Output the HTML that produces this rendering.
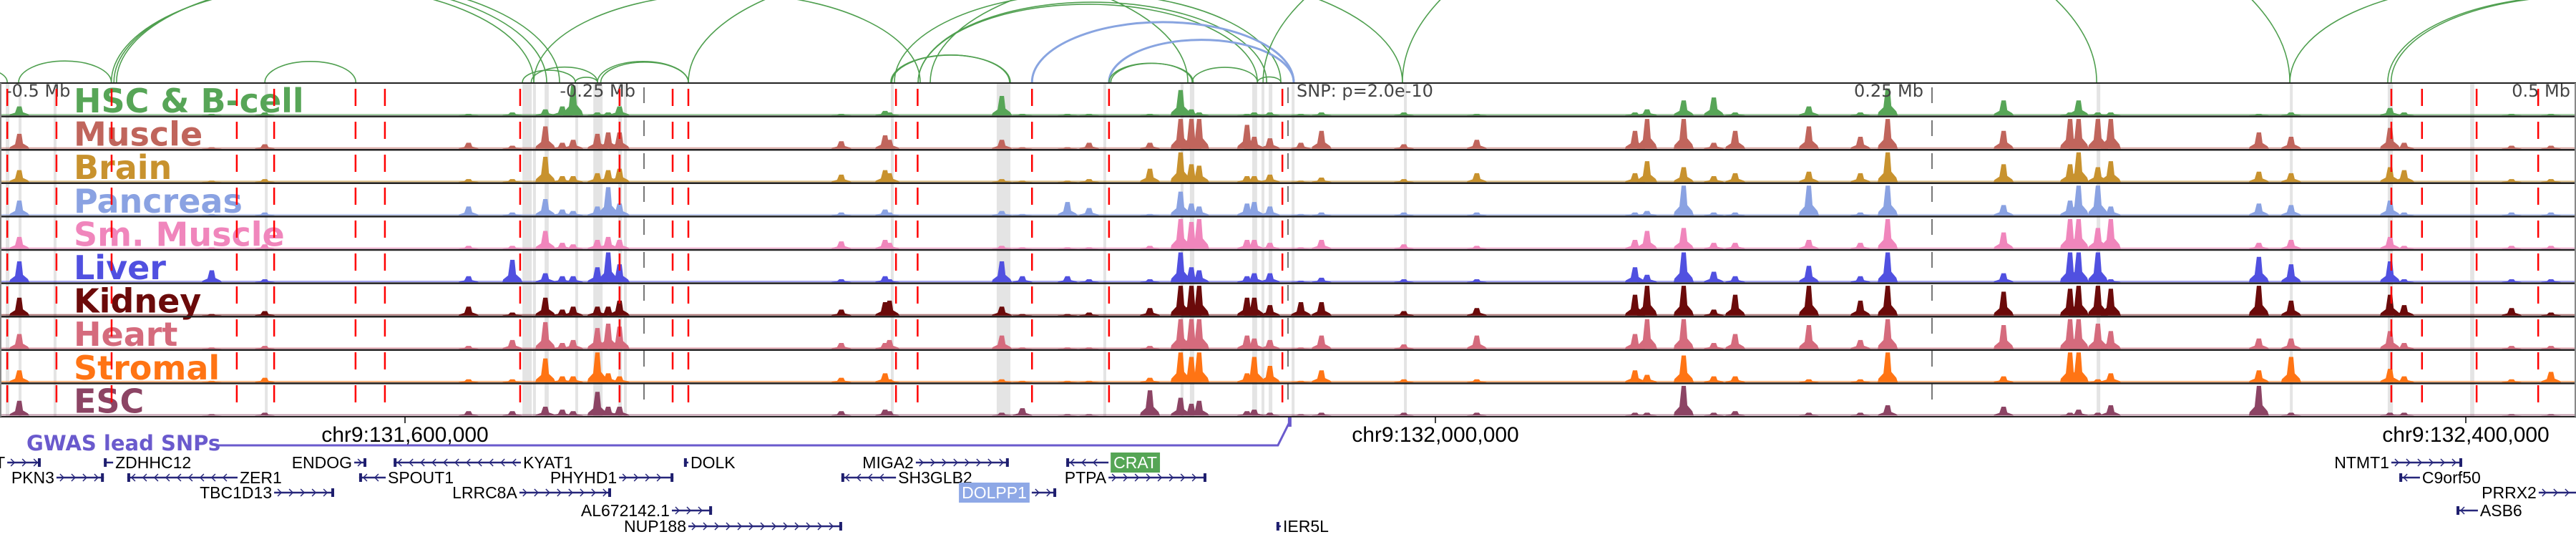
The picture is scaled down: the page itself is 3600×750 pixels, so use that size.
<!DOCTYPE html>
<html><head><meta charset="utf-8"><style>
html,body{margin:0;padding:0;background:#fff;width:3600px;height:750px;overflow:hidden}
svg{display:block}
</style></head><body>
<svg id="chart" xmlns="http://www.w3.org/2000/svg" width="3600" height="750" viewBox="0 0 3600 750">
<g id="arcs"></g>
<g id="bands"></g>
<g id="signals"></g>
<g id="labels"></g>
<g id="vlines"></g>
<g id="frame"></g>
<g id="axis"></g>
<g id="genes"></g>
</svg>
<script>
// ---- data ----
const windowStartKb = 131442.78;
const pxPerKb = 3.6;
const trackNames = ["HSC & B-cell","Muscle","Brain","Pancreas","Sm. Muscle","Liver","Kidney","Heart","Stromal","ESC"];
const trackColors = ["#57a557","#c0655c","#c8922e","#8aa2e2","#f086bc","#5050e0","#6b0a0a","#d56b7d","#ff7414","#8c4464"];
const peakKb = [131450.3,131525,131545.6,131624.7,131641.7,131654.5,131661.1,131665.3,131674.7,131678.9,131683.3,131769.4,131786.4,131788.1,131831.7,131839.7,131857.2,131865.6,131889.2,131901.1,131905.3,131908.3,131926.9,131929.7,131935.8,131947.8,131955.8,131987.8,132016.1,132077.5,132082.2,132096.4,132108.1,132116.4,132145,132165,132175.6,132220.6,132246.4,132249.7,132257.2,132262.2,132319.7,132332.2,132370.6,132376.1,132417.8,132433.1];
const hscValues = [.3,.05,.1,.05,.1,.2,.3,1,.1,.1,.3,.05,.15,.1,.65,.05,.05,.05,.05,.85,.2,.1,.05,.1,.1,.05,.1,.1,.05,.1,.2,.5,.6,.1,.3,.1,.9,.5,.1,.5,.1,.1,.05,.1,.25,.1,.05,.05];
const muscleValues = [.5,.05,.15,.2,.1,.75,.2,.3,.5,.55,.55,.25,.45,.3,.3,.05,.05,.2,.2,1,1,1,.8,.4,.35,.2,.6,.15,.3,.6,1,1,.2,.6,.75,.4,1,.6,1,1,1,1,.55,.4,.7,.2,.1,.1];
const brainValues = [.4,.05,.1,.1,.1,.85,.2,.2,.3,.4,.45,.25,.4,.3,.1,.05,.05,.1,.45,1,.6,.55,.2,.2,.25,.05,.15,.1,.3,.3,.7,.5,.2,.3,.35,.3,1,.6,.6,1,.5,.7,.35,.3,.5,.4,.1,.1];
const pancreasValues = [.5,.05,.1,.3,.1,.55,.2,.15,.3,.95,.4,.1,.2,.1,.15,.05,.45,.25,.05,.8,.4,.3,.4,.45,.3,.05,.1,.1,.1,.1,.15,1,.1,.1,1,.1,1,.35,.5,1,1,.3,.4,.35,.5,.1,.1,.1];
const smMuscleValues = [.4,.05,.15,.1,.1,.6,.2,.15,.3,.4,.3,.25,.3,.2,.1,.05,.05,.05,.1,1,.9,1,.3,.3,.2,.05,.3,.15,.1,.3,.6,.7,.2,.2,.3,.2,1,.55,1,1,.7,1,.2,.3,.4,.1,.1,.1];
const liverValues = [.7,.4,.1,.2,.75,.3,.2,.2,.5,1,.6,.1,.2,.1,.7,.2,.2,.1,.1,1,.5,.4,.2,.3,.3,.05,.15,.1,.1,.5,.25,1,.35,.2,.55,.2,1,.3,1,1,1,.1,.85,.6,.7,.1,.1,.1];
const kidneyValues = [.6,.05,.15,.3,.1,.6,.2,.3,.3,.3,.5,.2,.45,.5,.3,.05,.05,.1,.25,1,1,1,.6,.6,.35,.45,.45,.15,.25,.7,1,1,.2,.7,1,.5,1,.8,.9,1,1,.9,1,.5,.7,.35,.25,.1];
const heartValues = [.5,.05,.1,.1,.3,.9,.2,.3,.7,.85,.75,.2,.2,.3,.45,.05,.05,.05,.1,1,1,1,.45,.35,.3,.05,.45,.15,.45,.5,1,1,.2,.5,.8,.3,1,.8,1,1,.85,.6,.35,.35,.6,.2,.1,.1];
const stromalValues = [.4,.05,.15,.1,.1,.8,.2,.2,1,.3,.2,.15,.3,.1,.1,.05,.05,.05,.15,1,.85,1,.3,.85,.55,.05,.4,.1,.1,.4,.25,.9,.2,.2,.1,.1,1,.2,1,1,.1,.3,.4,.85,.45,.2,.1,.35];
const escValues = [.5,.05,.1,.15,.15,.3,.2,.15,.8,.3,.3,.15,.2,.15,.1,.25,.05,.05,.85,.6,.4,.5,.15,.2,.1,.05,.1,.1,.1,.1,.1,1,.1,.15,.1,.1,.35,.3,.1,.2,.1,.35,1,.1,.1,.1,.05,.05];
const redLineKb = [131445.6,131464.7,131486.1,131534.7,131549.2,131580.8,131592.2,131644.7,131683.3,131703.9,131710,131790.6,131799,131843.4,131873.3,131940.6,132371.1,132383,132404.2,132428.1];
const bandStartKb = [131445.0,131450.0,131463.6,131545.6,131645.6,131649.7,131654.2,131666.1,131673.1,131682.8,131685.0,131788.6,131829.7,131871.1,131901.1,131904.7,131928.9,131932.5,131935.3,131944.2,131987.8,132256.7,132331.7,132369.7,132401.7];
const bandEndKb   = [131446.4,131450.8,131464.7,131546.7,131649.2,131650.8,131655.8,131667.2,131676.7,131684.2,131686.1,131789.4,131835.0,131872.2,131902.2,131906.4,131930.8,131933.3,131936.7,131945.0,131988.9,132258.1,132332.8,132371.7,132403.3];
const offsetLabels = ["-0.5 Mb","-0.25 Mb","SNP: p=2.0e-10","0.25 Mb","0.5 Mb"];
const offsetKb = [131442.78,131692.78,131942.78,132192.78,132442.78];
const arcStartKb = [131420.6,131450,131486,131487,131488,131545.6,131645.6,131649,131666.1,131674.7,131676,131710,131788.6,131789,131790,131799.2,131799.2,131843.4,131873.3,131873.3,131874,131905.6,131930.9,131933.1,131803.9,131987.2,132331.7,132369.7,132371,131650];
const arcEndKb   = [131445.6,131486,131650,131655,131660,131580.9,131666.1,131674.7,131674.7,131710,131710,131903.9,131834.7,131835,131940,131930.9,131934.5,131945,131945,131905.6,131906,131930.9,131940,132256.7,131987.2,132331.7,132498.4,132515,132516,131800];
const arcKind    = ["g","g","g","g","g","g","g","g","g","g","g","g","g","g","g","g","g","b","b","g","g","g","g","g","g","g","g","g","g","g"];
const axisTickKb = [131600,132000,132400];
const axisTickLabels = ["chr9:131,600,000","chr9:132,000,000","chr9:132,400,000"];
const geneNames  = ["T","ZDHHC12","ENDOG","KYAT1","DOLK","MIGA2","CRAT","NTMT1","PKN3","ZER1","SPOUT1","PHYHD1","SH3GLB2","PTPA","C9orf50","TBC1D13","LRRC8A","DOLPP1","PRRX2","AL672142.1","ASB6","NUP188","IER5L"];
const geneStartKb= [131445.6,131483.1,131580.3,131595.6,131708.3,131798.3,131856.7,132371.1,131464.7,131492.2,131582.2,131683.1,131769.4,131873.1,132374.2,131549.2,131644.4,131843.3,132428.3,131703.6,132396.4,131710,131938.3];
const geneEndKb  = [131458.6,131486.7,131585,131645.0,131710,131834.4,131873.1,132398.6,131483.1,131535.0,131592.5,131704.2,131790.6,131911.1,132382.2,131572.5,131680.0,131852.8,132448.3,131719.2,132404.7,131769.7,131940.0];
const geneStrand = ["+","-","+","-","-","+","-","+","+","-","-","+","-","+","-","+","+","+","+","+","-","+","-"];
const geneRow    = [0,0,0,0,0,0,0,0,1,1,1,1,1,1,1,2,2,2,2,3,3,4,4];
const geneLabelSide = ["L","R","L","R","R","L","R","L","L","R","R","L","R","L","R","L","L","L","L","L","R","L","R"];
const geneHighlight = ["","","","","","","g","","","","","","","","","","","b","","","","",""];
const gwasSnpKb = [131943.3];

// ---- layout ----
const NS="http://www.w3.org/2000/svg";
const xs = kb => (kb - windowStartKb) * pxPerKb;
const panelTop=116, trackH=46.6, nTracks=10, panelBottom=panelTop+trackH*nTracks;
const trackValues=[hscValues,muscleValues,brainValues,pancreasValues,smMuscleValues,liverValues,kidneyValues,heartValues,stromalValues,escValues];
function mk(tag, attrs, parent){const e=document.createElementNS(NS,tag);for(const k in attrs)e.setAttribute(k,attrs[k]);parent.appendChild(e);return e;}
const gArcs=document.getElementById('arcs'),gBands=document.getElementById('bands'),gSig=document.getElementById('signals'),gLab=document.getElementById('labels'),gV=document.getElementById('vlines'),gF=document.getElementById('frame'),gAx=document.getElementById('axis'),gG=document.getElementById('genes');

// arcs
const arcBase=115;
arcStartKb.forEach((s,i)=>{
  const x1=xs(s),x2=xs(arcEndKb[i]),rx=(x2-x1)/2,ry=0.23*(x2-x1);
  const p=mk('path',{d:`M${x1},${arcBase} A${rx},${ry} 0 0 1 ${x2},${arcBase}`,fill:'none',stroke:arcKind[i]==='b'?'#88a4e0':'#4f9f4f','stroke-width':arcKind[i]==='b'?3:1.6},gArcs);
  
  
});

// bands
bandStartKb.forEach((s,i)=>{
  const x1=xs(s),w=Math.max(4,xs(bandEndKb[i])-x1);
  const r=mk('rect',{x:x1,y:panelTop,width:w,height:panelBottom-panelTop,fill:'#e4e4e4'},gBands);
  
  
});

// signals
trackValues.forEach((vals,t)=>{
  const base=panelTop+(t+1)*trackH-1.5, maxH=trackH-5;
  const g=mk('g',{fill:trackColors[t]},gSig);
  
  
  mk('rect',{x:0,y:base-2,width:3600,height:2,opacity:0.55},g);
  peakKb.forEach((kb,i)=>{
    const x=xs(kb),h=vals[i]*maxH;
    const p=mk('path',{d:`M${x-14},${base} L${x-13},${base-0.12*h} L${x-6},${base-0.3*h} L${x-3},${base-h} L${x+3},${base-h} L${x+5},${base-0.35*h} L${x+12},${base-0.15*h} L${x+14},${base} Z`},g);
    
    
  });
});

// track labels
trackNames.forEach((n,t)=>{
  const tx=mk('text',{x:103,y:panelTop+t*trackH+41,fill:trackColors[t],'font-family':'"DejaVu Sans","Liberation Sans",sans-serif','font-weight':'bold','font-size':46},gLab);
  tx.textContent=n;
  
  
});

// offset labels + gray dashed lines
offsetKb.forEach((kb,i)=>{
  const x=xs(kb);
  const l=mk('line',{x1:Math.min(Math.max(x,1),3599),x2:Math.min(Math.max(x,1),3599),y1:panelTop,y2:panelBottom,stroke:'#777','stroke-width':2,'stroke-dasharray':'22 24','stroke-dashoffset':-6},gV);
  
  
  const anchor=(i===0||i===2)?'start':'end';
  const tx=mk('text',{x:i===0?8:(i===2?x+12:(i===4?x-8:x-12)),y:135,'text-anchor':anchor,fill:'#444','font-family':'"DejaVu Sans","Liberation Sans",sans-serif','font-size':24},gV);
  tx.textContent=offsetLabels[i];
  
  
});
redLineKb.forEach(kb=>{
  const x=xs(kb);
  const l=mk('line',{x1:x,x2:x,y1:panelTop,y2:panelBottom,stroke:'#ff0000','stroke-width':2.5,'stroke-dasharray':'24 22','stroke-dashoffset':-8},gV);
  
  
});

// frame
for(let t=0;t<=nTracks;t++){
  const y=panelTop+t*trackH;
  const l=mk('line',{x1:0,x2:3600,y1:y,y2:y,stroke:'#222','stroke-width':t===0||t===nTracks?2:2.5},gF);
  
  
}
mk('line',{x1:1,x2:1,y1:panelTop,y2:panelBottom,stroke:'#888','stroke-width':2},gF);
mk('line',{x1:3599,x2:3599,y1:panelTop,y2:panelBottom,stroke:'#888','stroke-width':2},gF);

// axis
axisTickKb.forEach((kb,i)=>{
  const x=xs(kb);
  mk('line',{x1:x,x2:x,y1:panelBottom,y2:panelBottom+9,stroke:'#000','stroke-width':1.5},gAx);
  const tx=mk('text',{x:i===2?Math.min(x,3455):x,y:617,'text-anchor':'middle',fill:'#000','font-family':'"Liberation Sans",sans-serif','font-size':30},gAx);
  tx.textContent=axisTickLabels[i];
  
  
});

// GWAS
const gw=mk('text',{x:37,y:629,fill:'#6a5acd','font-family':'"DejaVu Sans","Liberation Sans",sans-serif','font-weight':'bold','font-size':29},gAx);
gw.textContent='GWAS lead SNPs';


gwasSnpKb.forEach(kb=>{
  const x=xs(kb);
  const p=mk('path',{d:`M300,622 L${x-16},622 L${x},590`,fill:'none',stroke:'#6a5acd','stroke-width':3},gAx);
  
  
  const r=mk('rect',{x:x-2,y:583,width:5,height:13,fill:'#6a5acd'},gAx);
  
  
});

// genes
const rowY=[646,667,688,713,735];
geneNames.forEach((n,i)=>{
  const x1=xs(geneStartKb[i]),x2=xs(geneEndKb[i]),y=rowY[geneRow[i]];
  const g=mk('g',{},gG);
  
  
  mk('line',{x1:x1,x2:x2,y1:y,y2:y,stroke:'#26267a','stroke-width':2.5},g);
  mk('rect',{x:geneStrand[i]==='+'?x2-4:x1,y:y-6,width:4,height:12,fill:'#1e1e6e'},g);
  for(let ax=x1+8;ax<x2-6;ax+=16){
    const d=geneStrand[i]==='+'?`M${ax-3},${y-5} L${ax+2},${y} L${ax-3},${y+5}`:`M${ax+3},${y-5} L${ax-2},${y} L${ax+3},${y+5}`;
    mk('path',{d:d,fill:'none',stroke:'#26267a','stroke-width':1.5},g);
  }
  const left=geneLabelSide[i]==='L';
  const tx=left?x1-3:x2+3;
  const t=mk('text',{x:left?tx-(geneHighlight[i]?4:0):tx+(geneHighlight[i]?4:0),y:y+8,'text-anchor':left?'end':'start',fill:geneHighlight[i]?'#fff':'#000','font-family':'"Liberation Sans",sans-serif','font-size':23},g);
  t.textContent=n;
  if(geneHighlight[i]){
    const bb=t.getBBox();
    const r=mk('rect',{x:bb.x-4,y:y-14,width:bb.width+8,height:28,fill:geneHighlight[i]==='g'?'#55a555':'#8ea8e6'},g);
    g.insertBefore(r,t);
  }
});
</script>
</body></html>
